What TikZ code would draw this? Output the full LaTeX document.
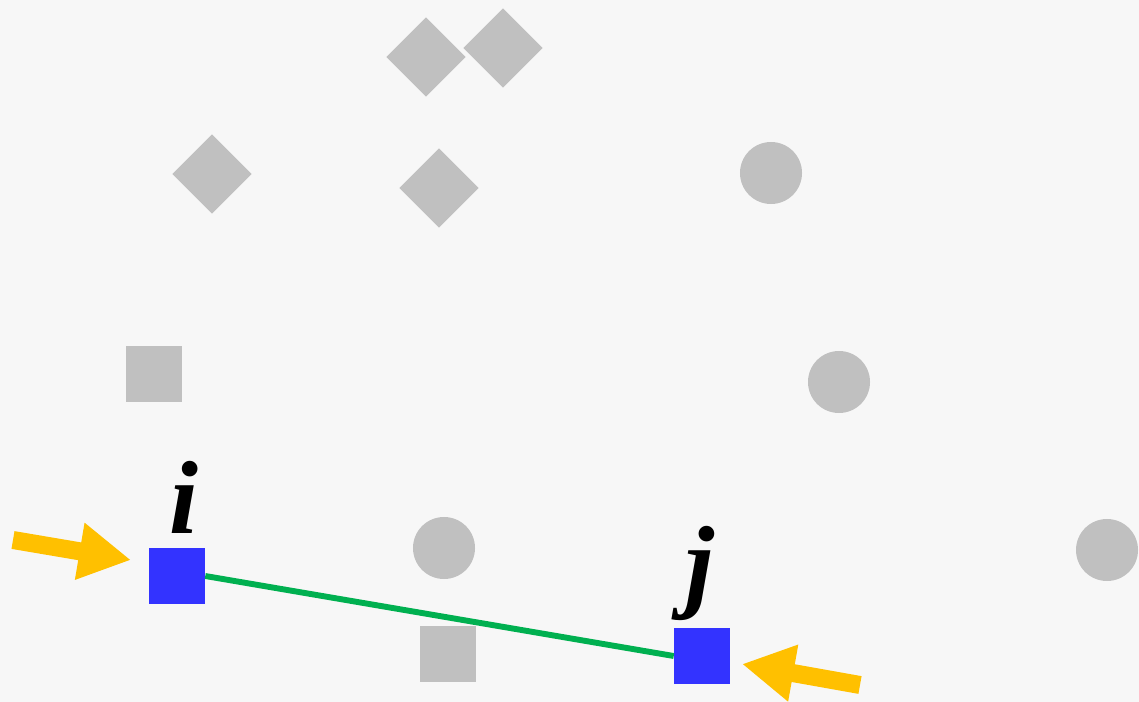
\documentclass[tikz,border=0pt]{standalone}
\usepackage{fontspec}
\setmainfont{Liberation Serif}
\usetikzlibrary{arrows.meta}
\definecolor{bgc}{HTML}{F7F7F7}
\definecolor{pgray}{HTML}{C0C0C0}
\definecolor{pblue}{HTML}{3333FF}
\definecolor{pgreen}{HTML}{00B050}
\definecolor{pyellow}{HTML}{FFC000}
\begin{document}
\begin{tikzpicture}[x=0.025cm,y=-0.025cm,
    dia/.style={fill=pgray,rectangle,rotate=45,inner sep=0pt,minimum size=1.4cm},
    dot/.style={fill=pgray,circle,inner sep=0pt,minimum size=1.55cm},
    box/.style={fill=pgray,rectangle,inner sep=0pt,minimum size=1.4cm},
    pt/.style={fill=pblue,rectangle,inner sep=0pt,minimum size=1.4cm},
    lbl/.style={anchor=base,inner sep=0pt,font=\fontsize{74}{80}\selectfont\bfseries\itshape},
    push/.style={pyellow,line width=0.45cm,-{Triangle[length=1.3cm,width=1.35cm]}}]
      \fill[bgc] (0,0) rectangle (1139,702);
      % grey points
      \node[dia] (d1) at (426,57) {};
      \node[dia] (d2) at (503,48) {};
      \node[dia] (d3) at (212,174) {};
      \node[dia] (d4) at (439,188) {};
      \node[dot] (c1) at (771,173) {};
      \node[dot] (c2) at (839,382) {};
      \node[dot] (c3) at (444,548) {};
      \node[dot] (c4) at (1107,550) {};
      \node[box] (s1) at (154,374) {};
      \node[box] (s2) at (448,654) {};
      % the pair
      \node[pt] (i) at (177,576) {};
      \node[pt] (j) at (702,656) {};
      \node[lbl] (li) at (184,533) {i};
      \node[lbl] (lj) at (700,598) {j};
      \draw[pgreen,line width=4.2pt] (i.east) -- (j.west);
      \coordinate (ia) at (13,540);
      \coordinate (ib) at (131,560);
      \coordinate (ja) at (860,685);
      \coordinate (jb) at (742,664);
      \draw[push] (ia) -- (ib);
      \draw[push] (ja) -- (jb);
    \end{tikzpicture}
\end{document}
